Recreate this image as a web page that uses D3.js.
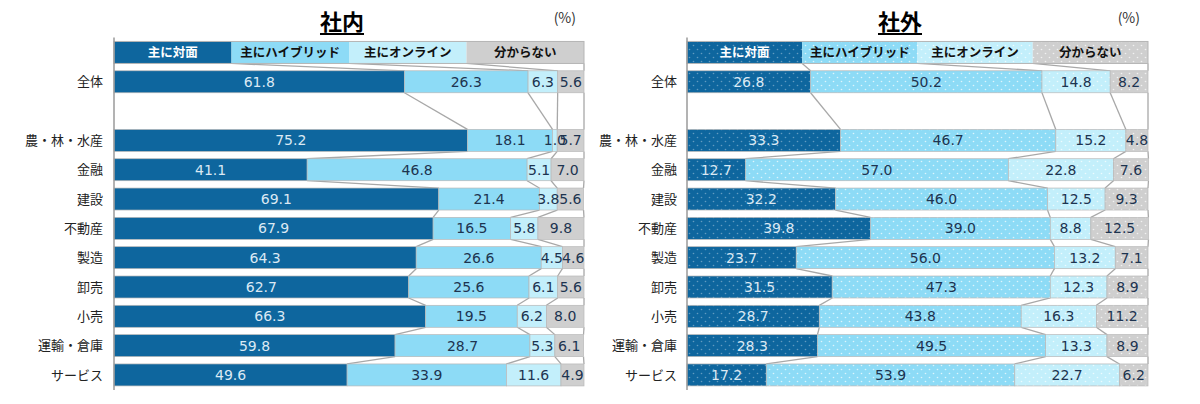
<!DOCTYPE html>
<html>
<head>
<meta charset="utf-8">
<script src="https://cdn.jsdelivr.net/npm/d3@7"></script>
<style>
  body { margin: 0; background: #fff; }
  svg { display: block; }
</style>
</head>
<body>
<div id="chart"></div>
<script>
// data
var categories = ['全体', '', '農・林・水産', '金融', '建設', '不動産', '製造', '卸売', '小売', '運輸・倉庫', 'サービス'];
var seriesNames = ['主に対面', '主にハイブリッド', '主にオンライン', '分からない'];
var seriesColors = ['#0e669e', '#8ddbf6', '#c3effb', '#cfcfcf'];
var insideValues = [
    [61.8, 26.3, 6.3, 5.6],
    null,
    [75.2, 18.1, 1.0, 5.7],
    [41.1, 46.8, 5.1, 7.0],
    [69.1, 21.4, 3.8, 5.6],
    [67.9, 16.5, 5.8, 9.8],
    [64.3, 26.6, 4.5, 4.6],
    [62.7, 25.6, 6.1, 5.6],
    [66.3, 19.5, 6.2, 8.0],
    [59.8, 28.7, 5.3, 6.1],
    [49.6, 33.9, 11.6, 4.9]
];
var outsideValues = [
    [26.8, 50.2, 14.8, 8.2],
    null,
    [33.3, 46.7, 15.2, 4.8],
    [12.7, 57.0, 22.8, 7.6],
    [32.2, 46.0, 12.5, 9.3],
    [39.8, 39.0, 8.8, 12.5],
    [23.7, 56.0, 13.2, 7.1],
    [31.5, 47.3, 12.3, 8.9],
    [28.7, 43.8, 16.3, 11.2],
    [28.3, 49.5, 13.3, 8.9],
    [17.2, 53.9, 22.7, 6.2]
];
var headerValues = [25, 25, 25, 25];

var width = 1200, height = 404;
var jpFont = '"Noto Sans CJK JP", "Noto Sans", sans-serif';
var numFont = '"DejaVu Sans", Verdana, sans-serif';
var lineGray = '#a8a8a8';

var svg = d3.select('#chart').append('svg')
    .attr('width', width)
    .attr('height', height);

// dotted fills for the right panel
var defs = svg.append('defs');
seriesColors.forEach(function(c, i) {
    var p = defs.append('pattern')
        .attr('id', 'dots' + i)
        .attr('patternUnits', 'userSpaceOnUse')
        .attr('width', 8)
        .attr('height', 8);
    p.append('rect').attr('width', 8).attr('height', 8).attr('fill', c);
    p.append('circle').attr('cx', 1.5).attr('cy', 1.5).attr('r', 0.8)
        .attr('fill', '#fff').attr('opacity', i === 0 ? 0.35 : 0.7);
    p.append('circle').attr('cx', 5.5).attr('cy', 5.5).attr('r', 0.8)
        .attr('fill', '#fff').attr('opacity', i === 0 ? 0.35 : 0.7);
});

// rows: header slot + categories
var rowKeys = ['__header'].concat(categories.map(function(c, i) { return 'r' + i; }));
var y = d3.scaleBand()
    .domain(rowKeys)
    .range([37.8, 389.6])
    .paddingInner(0.25)
    .paddingOuter(0.125);

drawPanel({ title: '社内', titleX: 342, x0: 114, x1: 584, labelX: 103, values: insideValues, dotted: false });
drawPanel({ title: '社外', titleX: 900, x0: 687, x1: 1148, labelX: 677, values: outsideValues, dotted: true });

function cumulate(vals) {
    var out = [], s = 0;
    vals.forEach(function(v) { out.push([s, s + v]); s += v; });
    return out;
}

function drawPanel(cfg) {
    var g = svg.append('g');
    var x = d3.scaleLinear().domain([0, 100]).range([cfg.x0, cfg.x1]);
    var fillFor = function(i) { return cfg.dotted ? 'url(#dots' + i + ')' : seriesColors[i]; };

    // title
    var t = g.append('text')
        .attr('x', cfg.titleX)
        .attr('y', 30)
        .attr('text-anchor', 'middle')
        .style('font-family', jpFont)
        .style('font-weight', 'bold')
        .style('font-size', '22px')
        .attr('fill', '#000')
        .text(cfg.title);
    var tw = t.node().getComputedTextLength();
    g.append('line')
        .attr('x1', cfg.titleX - tw / 2).attr('x2', cfg.titleX + tw / 2)
        .attr('y1', 34).attr('y2', 34)
        .attr('stroke', '#000').attr('stroke-width', 2);

    g.append('text')
        .attr('x', cfg.x1 - 8)
        .attr('y', 23)
        .attr('text-anchor', 'end')
        .style('font-family', jpFont)
        .style('font-size', '14px')
        .attr('fill', '#333')
        .text('(%)');

    // rows with data (header first)
    var rows = [{ key: '__header', segs: cumulate(headerValues) }];
    cfg.values.forEach(function(v, i) {
        if (v) rows.push({ key: 'r' + i, vals: v, segs: cumulate(v) });
    });

    // series lines between consecutive bars
    for (var r = 0; r < rows.length - 1; r++) {
        var a = rows[r], b = rows[r + 1];
        for (var k = 0; k < 4; k++) {
            g.append('line')
                .attr('x1', x(a.segs[k][1])).attr('y1', y(a.key) + y.bandwidth())
                .attr('x2', x(b.segs[k][1])).attr('y2', y(b.key))
                .attr('stroke', lineGray)
                .attr('stroke-width', 1.3);
        }
    }

    // header bar
    var header = g.append('g');
    rows[0].segs.forEach(function(s, i) {
        header.append('rect')
            .attr('x', x(s[0])).attr('y', y('__header'))
            .attr('width', x(s[1]) - x(s[0])).attr('height', y.bandwidth())
            .attr('fill', fillFor(i));
        header.append('text')
            .attr('x', (x(s[0]) + x(s[1])) / 2)
            .attr('y', y('__header') + y.bandwidth() / 2)
            .attr('dy', '0.36em')
            .attr('text-anchor', 'middle')
            .style('font-family', jpFont)
            .style('font-weight', 'bold')
            .style('font-size', '12.5px')
            .attr('fill', i === 0 ? '#fff' : '#111')
            .text(seriesNames[i]);
    });
    header.append('rect')
        .attr('x', cfg.x0).attr('y', y('__header'))
        .attr('width', cfg.x1 - cfg.x0).attr('height', y.bandwidth())
        .attr('fill', 'none').attr('stroke', '#b5b5b5').attr('stroke-width', 1);

    // data bars
    rows.slice(1).forEach(function(row) {
        var idx = +row.key.slice(1);
        var bar = g.append('g');
        row.segs.forEach(function(s, i) {
            bar.append('rect')
                .attr('x', x(s[0])).attr('y', y(row.key))
                .attr('width', x(s[1]) - x(s[0])).attr('height', y.bandwidth())
                .attr('fill', fillFor(i))
                .attr('stroke', '#b8b8b8').attr('stroke-width', 0.7);
        });
        row.segs.forEach(function(s, i) {
            bar.append('text')
                .attr('x', (x(s[0]) + x(s[1])) / 2)
                .attr('y', y(row.key) + y.bandwidth() / 2)
                .attr('dy', '0.36em')
                .attr('text-anchor', 'middle')
                .style('font-family', numFont)
                .style('font-size', '14px')
                .attr('fill', i === 0 ? '#dbe9f4' : '#1d3450')
                .text(d3.format('.1f')(row.vals[i]));
        });
        g.append('text')
            .attr('x', cfg.labelX)
            .attr('y', y(row.key) + y.bandwidth() / 2)
            .attr('dy', '0.36em')
            .attr('text-anchor', 'end')
            .style('font-family', jpFont)
            .style('font-size', '13px')
            .attr('fill', '#222')
            .text(categories[idx]);
    });

    // category axis line
    g.append('line')
        .attr('x1', cfg.x0).attr('x2', cfg.x0)
        .attr('y1', y('__header') - 4)
        .attr('y2', y('r10') + y.bandwidth() + 4)
        .attr('stroke', '#9a9a9a')
        .attr('stroke-width', 1.5);
}
</script>
</body>
</html>
